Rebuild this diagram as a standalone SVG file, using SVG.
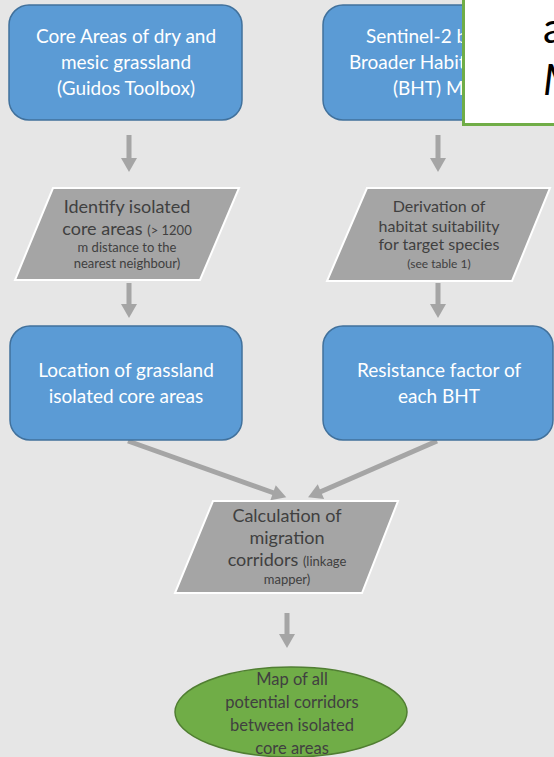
<svg xmlns="http://www.w3.org/2000/svg" width="554" height="757" viewBox="0 0 554 757">
<defs>
<style>
.box{fill:#5B9BD5;stroke:#41719C;stroke-width:1.5}
.para{fill:#A5A5A5;stroke:#FFFFFF;stroke-width:2}
.wt{font-family:Lato,"Liberation Sans",sans-serif;font-size:19px;fill:#FFFFFF;text-anchor:middle}
.dt{font-family:Lato,"Liberation Sans",sans-serif;font-size:18px;fill:#404040;text-anchor:middle}
.sm{font-size:13px}
.arr{stroke:#A5A5A5;stroke-width:5;fill:none;marker-end:url(#ah)}
</style>
<marker id="ah" markerUnits="userSpaceOnUse" markerWidth="16" markerHeight="16" viewBox="0 0 14 16" refX="1" refY="8" orient="auto">
<path d="M0,0 L14,8 L0,16 Z" fill="#A5A5A5"/>
</marker>
</defs>
<rect width="554" height="757" fill="#E6E6E6"/>

<g id="connectors">
<line class="arr" x1="129" y1="135" x2="129" y2="159"/>
<line class="arr" x1="129" y1="283" x2="129" y2="305"/>
<line class="arr" x1="438" y1="135" x2="438" y2="159"/>
<line class="arr" x1="438" y1="283" x2="438" y2="305"/>
<line class="arr" x1="128" y1="441" x2="274" y2="493"/>
<line class="arr" x1="437" y1="441" x2="320" y2="492"/>
<line class="arr" x1="287" y1="613" x2="287" y2="635"/>
</g>

<g id="n1">
<rect class="box" x="9" y="5" width="233" height="115" rx="20"/>
<text class="wt" x="126" y="43">Core Areas of dry and</text>
<text class="wt" x="126" y="69">mesic grassland</text>
<text class="wt" x="126" y="95">(Guidos Toolbox)</text>
</g>

<g id="n2">
<rect class="box" x="323" y="5" width="230" height="115" rx="20"/>
<text class="wt" x="366" y="43" style="text-anchor:start">Sentinel-2 b</text>
<text class="wt" x="349" y="69" style="text-anchor:start">Broader Habit</text>
<text class="wt" x="393" y="95" style="text-anchor:start">(BHT) M</text>
</g>

<g id="n3">
<polygon class="para" points="53,188 239,188 200,280 15,280"/>
<text class="dt" x="127" y="213">Identify isolated</text>
<text class="dt" x="127" y="235">core areas <tspan class="sm">(&gt; 1200</tspan></text>
<text class="dt sm" x="127" y="252">m distance to the</text>
<text class="dt sm" x="127" y="268">nearest neighbour)</text>
</g>

<g id="n4">
<polygon class="para" points="367,188 550,188 512,281 327,281"/>
<text class="dt" x="439" y="212" style="font-size:16px">Derivation of</text>
<text class="dt" x="439" y="232" style="font-size:16px">habitat suitability</text>
<text class="dt" x="439" y="250" style="font-size:16px">for target species</text>
<text class="dt" x="439" y="268" style="font-size:12px">(see table 1)</text>
</g>

<g id="n5">
<rect class="box" x="10" y="326" width="232" height="114" rx="20"/>
<text class="wt" x="126" y="377">Location of grassland</text>
<text class="wt" x="126" y="403">isolated core areas</text>
</g>

<g id="n6">
<rect class="box" x="323" y="326" width="230" height="114" rx="20"/>
<text class="wt" x="439" y="377">Resistance factor of</text>
<text class="wt" x="439" y="403">each BHT</text>
</g>

<g id="n7">
<polygon class="para" points="213,501 398,501 362,593 175,593"/>
<text class="dt" x="287" y="522">Calculation of</text>
<text class="dt" x="287" y="544">migration</text>
<text class="dt" x="287" y="566">corridors <tspan class="sm">(linkage</tspan></text>
<text class="dt sm" x="287" y="584">mapper)</text>
</g>

<g id="n8">
<ellipse cx="291" cy="712" rx="116" ry="45" fill="#70AD47" stroke="#507E32" stroke-width="1.5"/>
<text class="dt" x="292" y="685" style="font-size:16.5px">Map of all</text>
<text class="dt" x="292" y="708" style="font-size:16.5px">potential corridors</text>
<text class="dt" x="292" y="731" style="font-size:16.5px">between isolated</text>
<text class="dt" x="292" y="754" style="font-size:16.5px">core areas</text>
</g>

<g id="overlay">
<rect x="463.5" y="-3" width="95" height="127.5" fill="#FFFFFF" stroke="#70AD47" stroke-width="3"/>
<text x="543" y="43" font-family="Lato,'Liberation Sans',sans-serif" font-size="42" fill="#000000">a</text>
<text x="543" y="95" font-family="Lato,'Liberation Sans',sans-serif" font-size="42" font-style="italic" fill="#000000">M</text>
</g>
</svg>
